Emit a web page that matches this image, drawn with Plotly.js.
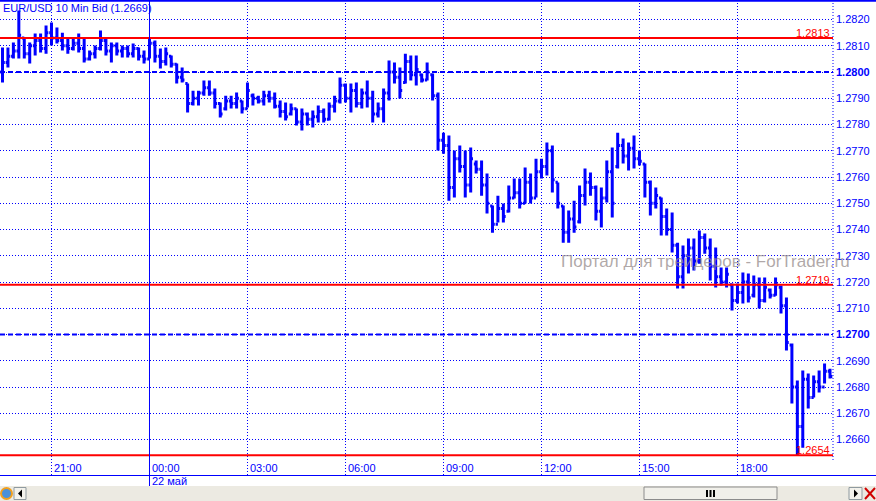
<!DOCTYPE html>
<html><head><meta charset="utf-8">
<script src="https://cdn.plot.ly/plotly-3.0.1.min.js"></script>
<style>html,body{margin:0;padding:0;background:#fff;}#chart{width:876px;height:501px;}</style>
</head><body><div id="chart"></div>
<script>
// ---- DATA ----
const titleText = 'EUR/USD 10 Min Bid (1.2669)';
const startTime = '2012-05-21T19:30:00Z';
const barMinutes = 10;
const openP = [1.2800,1.28036,1.2806,1.2808,1.2813,1.2807,1.2810,1.2812,1.2809,1.2815,
1.2813,1.2812,1.2810,1.2809,1.2811,1.2809,1.2805,1.2807,1.2809,1.2812,
1.2808,1.2810,1.2808,1.2809,1.2807,1.2809,1.2806,1.2805,1.2811,1.2806,
1.2804,1.2806,1.2803,1.2798,1.27956,1.2788,1.2790,1.2792,1.2794,1.2792,
1.2788,1.2786,1.2789,1.2788,1.2789,1.2786,1.2791,1.2790,1.2789,1.2791,
1.2790,1.2787,1.2785,1.2784,1.2786,1.2781,1.2784,1.2782,1.2783,1.2785,
1.2782,1.2787,1.2789,1.2795,1.2790,1.2793,1.2788,1.2792,1.2790,1.2784,
1.2786,1.2792,1.2800,1.2798,1.2796,1.2804,1.2799,1.2799,1.2797,1.2799,
1.2791,1.2774,1.2772,1.2756,1.2767,1.2764,1.2757,1.2765,1.2763,1.2757,
1.2749,1.2742,1.2748,1.2747,1.2752,1.2754,1.2750,1.2758,1.2752,1.2762,
1.2764,1.2770,1.2758,1.2749,1.2739,1.2744,1.2743,1.2753,1.2758,1.2756,
1.2747,1.2752,1.2762,1.2764,1.2772,1.2768,1.2771,1.2767,1.2765,1.2758,
1.2750,1.2752,1.2745,1.2740,1.2734,1.2722,1.2730,1.2733,1.2728,1.2737,
1.2733,1.2726,1.2722,1.2720,1.2719,1.2713,1.2716,1.2720,1.2715,1.2719,
1.2713,1.2717,1.2715,1.2718,1.2711,1.2696,1.2680,1.2665,1.2683,1.2676,
1.2682,1.2680,1.2686];
const highP = [1.28093,1.28093,1.28112,1.28234,1.28131,1.28112,1.28147,1.28147,1.28177,1.28189,
1.28170,1.28150,1.28131,1.28128,1.28147,1.28128,1.28082,1.28101,1.28158,1.28128,
1.28112,1.28112,1.28101,1.28101,1.28109,1.28093,1.28082,1.28128,1.28120,1.28090,
1.28093,1.28063,1.28032,1.28017,1.27956,1.27929,1.27929,1.27968,1.27968,1.27937,
1.27884,1.27910,1.27910,1.27922,1.27891,1.27960,1.27918,1.27910,1.27929,1.27929,
1.27922,1.27891,1.27884,1.27880,1.27861,1.27861,1.27846,1.27853,1.27872,1.27861,
1.27884,1.27910,1.27979,1.27956,1.27956,1.27960,1.27937,1.27968,1.27929,1.27884,
1.27937,1.28044,1.28036,1.28017,1.28070,1.28063,1.28063,1.27994,1.28036,1.27994,
1.27922,1.27769,1.27758,1.27701,1.27720,1.27701,1.27712,1.27663,1.27663,1.27613,
1.27491,1.27529,1.27499,1.27568,1.27594,1.27594,1.27636,1.27613,1.27670,1.27670,
1.27731,1.27720,1.27579,1.27491,1.27472,1.27510,1.27568,1.27632,1.27617,1.27568,
1.27560,1.27663,1.27712,1.27769,1.27747,1.27731,1.27758,1.27701,1.27651,1.27587,
1.27560,1.27522,1.27480,1.27465,1.27350,1.27339,1.27366,1.27366,1.27396,1.27385,
1.27366,1.27331,1.27255,1.27255,1.27194,1.27194,1.27236,1.27232,1.27225,1.27217,
1.27217,1.27175,1.27217,1.27187,1.27141,1.26966,1.26825,1.26863,1.26851,1.26844,
1.26863,1.26890,1.26870];
const lowP = [1.27960,1.28017,1.28051,1.28051,1.28051,1.28032,1.28063,1.28074,1.28070,1.28101,
1.28109,1.28082,1.28070,1.28082,1.28074,1.28036,1.28044,1.28051,1.28082,1.28063,
1.28036,1.28063,1.28055,1.28055,1.28055,1.28044,1.28032,1.28051,1.28036,1.28013,
1.28025,1.28017,1.27956,1.27960,1.27846,1.27872,1.27872,1.27910,1.27910,1.27861,
1.27827,1.27853,1.27861,1.27861,1.27842,1.27865,1.27872,1.27880,1.27872,1.27884,
1.27861,1.27827,1.27815,1.27834,1.27796,1.27777,1.27796,1.27789,1.27808,1.27808,
1.27815,1.27846,1.27880,1.27884,1.27846,1.27865,1.27861,1.27865,1.27808,1.27827,
1.27808,1.27891,1.27956,1.27899,1.27956,1.27968,1.27949,1.27960,1.27968,1.27891,
1.27701,1.27689,1.27510,1.27522,1.27617,1.27522,1.27541,1.27613,1.27529,1.27461,
1.27388,1.27427,1.27427,1.27465,1.27518,1.27480,1.27499,1.27499,1.27522,1.27594,
1.27606,1.27541,1.27480,1.27350,1.27350,1.27388,1.27423,1.27491,1.27529,1.27434,
1.27408,1.27503,1.27446,1.27632,1.27651,1.27625,1.27632,1.27644,1.27522,1.27453,
1.27480,1.27377,1.27377,1.27312,1.27175,1.27175,1.27232,1.27244,1.27270,1.27308,
1.27206,1.27179,1.27187,1.27179,1.27091,1.27118,1.27118,1.27122,1.27141,1.27099,
1.27122,1.27137,1.27148,1.27080,1.26939,1.26737,1.26540,1.26569,1.26718,1.26760,
1.26779,1.26813,1.26832];
const closeP = [1.28036,1.2806,1.2808,1.2814,1.2807,1.2810,1.2812,1.2809,1.2815,1.2813,
1.2812,1.2810,1.2809,1.2811,1.2809,1.2805,1.2807,1.2809,1.2812,1.2808,
1.2810,1.2808,1.2809,1.2807,1.2809,1.2806,1.2805,1.2811,1.2806,1.2804,
1.2807,1.2803,1.2798,1.2797,1.2788,1.2790,1.2792,1.2794,1.2792,1.2788,
1.2784,1.2789,1.2788,1.2790,1.2786,1.2793,1.2790,1.2789,1.2791,1.2790,
1.2787,1.2785,1.2783,1.2786,1.2781,1.2784,1.2782,1.2783,1.2785,1.2782,
1.2787,1.2789,1.2795,1.2790,1.2793,1.2788,1.2792,1.2790,1.2784,1.2786,
1.2792,1.2800,1.2798,1.2793,1.2804,1.2799,1.2801,1.2797,1.2800,1.2791,
1.2774,1.2772,1.2756,1.2767,1.2764,1.2757,1.2767,1.2763,1.2757,1.2750,
1.2742,1.2748,1.2745,1.2752,1.2754,1.2750,1.2758,1.2752,1.2762,1.2764,
1.2770,1.2759,1.2750,1.2739,1.2744,1.2741,1.2753,1.2758,1.2756,1.2747,
1.2752,1.2762,1.2750,1.2772,1.2768,1.2771,1.2767,1.2766,1.2758,1.2750,
1.2753,1.2745,1.2740,1.2734,1.2722,1.2730,1.2733,1.2728,1.2737,1.2733,
1.2726,1.2722,1.2720,1.2723,1.2713,1.2716,1.2720,1.2714,1.2719,1.2713,
1.2718,1.2715,1.2719,1.2711,1.2697,1.2680,1.2665,1.2683,1.2676,1.2682,
1.2680,1.2686,1.2684];
const tickTimes = ['2012-05-21 21:00','2012-05-22 00:00','2012-05-22 03:00','2012-05-22 06:00',
  '2012-05-22 09:00','2012-05-22 12:00','2012-05-22 15:00','2012-05-22 18:00'];
const tickLabels = ['21:00','00:00','03:00','06:00','09:00','12:00','15:00','18:00'];
const dayTime = '2012-05-22 00:00';
const dayLabel = '22 май';
const priceTicks = [1.2660,1.2670,1.2680,1.2690,1.2700,1.2710,1.2720,1.2730,1.2740,
  1.2750,1.2760,1.2770,1.2780,1.2790,1.2800,1.2810,1.2820];
const priceTickText = ['1.2660','1.2670','1.2680','1.2690','<b>1.2700</b>','1.2710','1.2720','1.2730','1.2740',
  '1.2750','1.2760','1.2770','1.2780','1.2790','<b>1.2800</b>','1.2810','1.2820'];
const roundLevels = [1.2800, 1.2700];
const redLevels = [1.2813, 1.2719, 1.2654];
const redLabels = ['1.2813', '1.2719', '1.2654'];
const watermark = 'Портал для трейдеров - ForTrader.ru';

// ---- BUILD ----
const t0 = Date.parse(startTime);
const times = openP.map((_, i) => new Date(t0 + i * barMinutes * 60000).toISOString().slice(0, 19).replace('T', ' '));

const PW = 833, PH = 475; // plot area px
const px = X => X / PW;
const py = Y => (PH - Y) / PH;
const BLUE = '#0000ff', RED = '#ff0000';
const FONT = 'Arial, "Liberation Sans", sans-serif';

const trace = {
  type: 'ohlc', x: times, open: openP, high: highP, low: lowP, close: closeP,
  increasing: {line: {color: BLUE, width: 3}},
  decreasing: {line: {color: BLUE, width: 3}},
  tickwidth: 0.42, hoverinfo: 'skip'
};

const shapes = [];
// scrollbar area
shapes.push({type:'rect', xref:'paper', yref:'paper', x0:0, x1:px(876), y0:py(486), y1:py(501), fillcolor:'#eceae2', line:{width:0}, layer:'below'});
roundLevels.forEach(v => shapes.push({type:'line', xref:'paper', yref:'y', x0:0, x1:1, y0:v, y1:v, line:{color:BLUE, width:2, dash:'5px,3px'}}));
redLevels.forEach(v => shapes.push({type:'line', xref:'paper', yref:'y', x0:0, x1:1, y0:v, y1:v, line:{color:RED, width:2}}));
shapes.push({type:'line', xref:'x', yref:'paper', x0:dayTime, x1:dayTime, y0:py(486), y1:1, line:{color:BLUE, width:1}});
shapes.push({type:'line', xref:'paper', yref:'paper', x0:1, x1:1, y0:py(460), y1:1, line:{color:BLUE, width:1, dash:'1px,2px'}});
shapes.push({type:'line', xref:'paper', yref:'paper', x0:0, x1:px(876), y0:py(0.8), y1:py(0.8), line:{color:BLUE, width:2}});
shapes.push({type:'line', xref:'paper', yref:'paper', x0:0, x1:px(876), y0:py(475.5), y1:py(475.5), line:{color:BLUE, width:1}});
// scrollbar pieces
shapes.push({type:'circle', xref:'paper', yref:'paper', x0:px(1), x1:px(12), y0:py(488), y1:py(499), fillcolor:'#4a90d9', line:{color:'#f0a020', width:2}});
shapes.push({type:'rect', xref:'paper', yref:'paper', x0:px(14), x1:px(26), y0:py(487.5), y1:py(499.5), fillcolor:'#f3f2ec', line:{color:'#8f9aa0', width:1}});
shapes.push({type:'path', xref:'paper', yref:'paper', path:`M ${px(18)} ${py(493.5)} L ${px(22)} ${py(489.5)} L ${px(22)} ${py(497.5)} Z`, fillcolor:'#000', line:{width:0}});
shapes.push({type:'rect', xref:'paper', yref:'paper', x0:px(644), x1:px(777), y0:py(487), y1:py(499.5), fillcolor:'#f1f0ea', line:{color:'#8c8c8c', width:1}});
[706, 709.5, 713].forEach(X => shapes.push({type:'rect', xref:'paper', yref:'paper', x0:px(X), x1:px(X+2), y0:py(490), y1:py(497), fillcolor:'#000', line:{width:0}}));
shapes.push({type:'rect', xref:'paper', yref:'paper', x0:px(849), x1:px(862), y0:py(487.5), y1:py(499.5), fillcolor:'#f3f2ec', line:{color:'#8f9aa0', width:1}});
shapes.push({type:'path', xref:'paper', yref:'paper', path:`M ${px(858)} ${py(493.5)} L ${px(854)} ${py(489.5)} L ${px(854)} ${py(497.5)} Z`, fillcolor:'#000', line:{width:0}});
shapes.push({type:'line', xref:'paper', yref:'paper', x0:px(865), x1:px(875), y0:py(488), y1:py(499), line:{color:'#d00000', width:2}});
shapes.push({type:'line', xref:'paper', yref:'paper', x0:px(865), x1:px(875), y0:py(499), y1:py(488), line:{color:'#d00000', width:2}});

const annotations = [];
tickTimes.forEach((t, i) => annotations.push({x:t, xref:'x', y:py(468), yref:'paper', text:tickLabels[i], showarrow:false,
  xanchor:'left', yanchor:'middle', xshift:1, font:{family:FONT, size:11, color:BLUE}}));
annotations.push({x:dayTime, xref:'x', y:py(481), yref:'paper', text:dayLabel, showarrow:false,
  xanchor:'left', yanchor:'middle', xshift:1, font:{family:FONT, size:11, color:BLUE}});
redLevels.forEach((v, i) => annotations.push({x:1, xref:'paper', y:v, yref:'y', text:redLabels[i], showarrow:false,
  xanchor:'right', yanchor:'bottom', xshift:-1, yshift:-3, font:{family:FONT, size:11, color:RED}}));
annotations.push({x:px(559), xref:'paper', y:py(261), yref:'paper', text:watermark, showarrow:false,
  xanchor:'left', yanchor:'middle', font:{family:FONT, size:17, color:'rgba(150,140,140,0.75)'}});

const layout = {
  width: 876, height: 501,
  margin: {l:0, r:43, t:0, b:26, pad:0},
  paper_bgcolor: '#ffffff', plot_bgcolor: '#ffffff',
  showlegend: false, dragmode: false,
  title: {text: titleText, xref:'container', yref:'container', x: 3/876, xanchor:'left', y: 1 - 8/501, yanchor:'middle',
    font: {family: FONT, size: 11, color: BLUE}},
  xaxis: {type:'date', range:['2012-05-21 19:25:25', '2012-05-22 20:55:30'], tickvals: tickTimes, showticklabels:false,
    ticks:'', showgrid:true, gridcolor:BLUE, gridwidth:1, griddash:'1px,2px', showline:false, zeroline:false,
    rangeslider:{visible:false}, fixedrange:true},
  yaxis: {side:'right', range:[1.264648, 1.282743], tickvals: priceTicks, ticktext: priceTickText, showgrid:true,
    gridcolor:BLUE, gridwidth:1, griddash:'1px,2px', ticks:'', showline:false, zeroline:false, ticklabelstandoff:2,
    tickfont:{family:FONT, size:11, color:BLUE}, fixedrange:true},
  shapes: shapes, annotations: annotations
};

Plotly.newPlot('chart', [trace], layout, {displayModeBar:false, staticPlot:true});
</script>
</body></html>
